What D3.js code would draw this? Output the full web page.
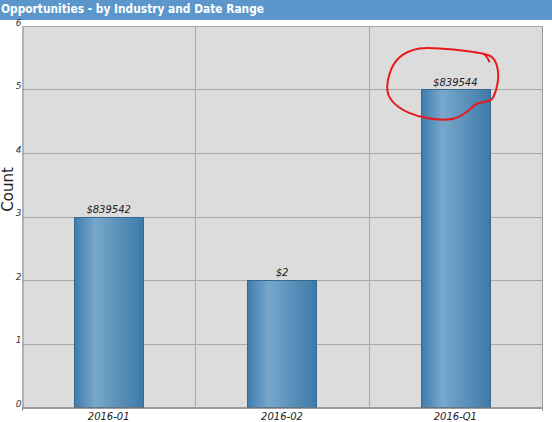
<!DOCTYPE html>
<html><head><meta charset="utf-8">
<script src="https://cdn.jsdelivr.net/npm/d3@7"></script>
<style>
html,body{margin:0;padding:0;background:#fff;}
svg{display:block;}
</style></head>
<body>
<svg id="c" width="552" height="422"></svg>
<script>
const title = "Opportunities - by Industry and Date Range";
const categories = ["2016-01", "2016-02", "2016-Q1"];
const counts = [3, 2, 5];
const amountLabels = ["$839542", "$2", "$839544"];
const yTicks = [0, 1, 2, 3, 4, 5, 6];
const yLabel = "Count";
const highlightCategory = "2016-Q1";

const svg = d3.select("#c");
const W = 552, H = 422;
const m = {left: 22, right: 10, top: 26, bottom: 15};

// header bar
svg.append("rect").attr("x",0).attr("y",0).attr("width",W).attr("height",20).attr("fill","#5b97cb");

const x = d3.scaleBand().domain(categories).range([m.left, W - m.right]).paddingInner(0).paddingOuter(0);
const y = d3.scaleLinear().domain([0, 6]).range([H - m.bottom, m.top]);

// plot background
svg.append("rect").attr("x", m.left).attr("y", y(6)).attr("width", x.range()[1]-m.left).attr("height", y(0)-y(6)).attr("fill","#dcdcdc");

// horizontal grid
svg.append("g").selectAll("line").data(yTicks.filter(d=>d>0)).join("line")
  .attr("x1", m.left).attr("x2", x.range()[1])
  .attr("y1", d=>Math.round(y(d))+0.5).attr("y2", d=>Math.round(y(d))+0.5)
  .attr("stroke","#a9a9a9").attr("stroke-width",1);

// vertical grid (band boundaries)
const bounds = categories.map(c=>x(c)+x.bandwidth());
svg.append("g").selectAll("line").data(bounds).join("line")
  .attr("x1", d=>Math.round(d)+0.5).attr("x2", d=>Math.round(d)+0.5)
  .attr("y1", y(6)).attr("y2", y(0))
  .attr("stroke","#a9a9a9").attr("stroke-width",1);

// gradient
const defs = svg.append("defs");
const g = defs.append("linearGradient").attr("id","barg").attr("x1","0%").attr("x2","100%").attr("y1","0%").attr("y2","0%");
g.append("stop").attr("offset","0%").attr("stop-color","#3f7cac");
g.append("stop").attr("offset","30%").attr("stop-color","#78a7cb");
g.append("stop").attr("offset","100%").attr("stop-color","#3d7aa9");

const bw = x.bandwidth()*0.4;
svg.append("g").selectAll("rect").data(categories).join("rect")
  .attr("x", (c)=>Math.round(x(c)+x.bandwidth()/2-bw/2)+0.5)
  .attr("y", (c,i)=>Math.round(y(counts[i]))+0.5)
  .attr("width", Math.round(bw))
  .attr("height", (c,i)=>Math.round(y(0))-Math.round(y(counts[i])))
  .attr("fill","url(#barg)").attr("stroke","#36698f").attr("stroke-width",1);

// value labels
svg.append("g").selectAll("text").data(categories).join("text")
  .attr("x", c=>x(c)+x.bandwidth()/2)
  .attr("y", (c,i)=>y(counts[i])-4)
  .attr("text-anchor","middle")
  .attr("font-family","'DejaVu Sans', Verdana, sans-serif").attr("font-size",10).attr("font-style","italic")
  .attr("fill","#222")
  .text((c,i)=>amountLabels[i]);

// axes
const yAxis = d3.axisLeft(y).tickValues(yTicks).tickSize(0).tickFormat(d3.format("d"));
const ya = svg.append("g").attr("transform",`translate(${m.left+0.5},0)`).call(yAxis);
ya.select(".domain").attr("stroke","#8a8a8a");
ya.selectAll("text").attr("x",-1).attr("dy","-0.1em").attr("font-family","'DejaVu Sans', Verdana, sans-serif").attr("font-size",9).attr("font-style","italic").attr("fill","#333");

const xAxis = d3.axisBottom(x).tickSize(0);
const xa = svg.append("g").attr("transform",`translate(0,${Math.round(y(0))+0.5})`).call(xAxis);
xa.select(".domain").attr("stroke","#7a7a7a").attr("stroke-width",1.5);
xa.selectAll("text").attr("dy","0.95em").attr("font-family","'DejaVu Sans', Verdana, sans-serif").attr("font-size",10).attr("font-style","italic").attr("fill","#222");

// right border
svg.append("line").attr("x1", x.range()[1]+0.5).attr("x2", x.range()[1]+0.5).attr("y1", y(6)).attr("y2", y(0)+4).attr("stroke","#9a9a9a");
// left tick below zero
svg.append("line").attr("x1", m.left+0.5).attr("x2", m.left+0.5).attr("y1", y(0)).attr("y2", y(0)+4).attr("stroke","#8a8a8a");
// top border
svg.append("line").attr("x1", m.left).attr("x2", x.range()[1]).attr("y1", y(6)+0.5).attr("y2", y(6)+0.5).attr("stroke","#a9a9a9");

// title
svg.append("text").attr("x",1).attr("y",13).attr("fill","#fff")
  .attr("font-family","'DejaVu Sans', Verdana, sans-serif").attr("font-weight","bold").attr("font-size",12.5)
  .attr("textLength",263).attr("lengthAdjust","spacingAndGlyphs")
  .text(title);

// y label
svg.append("text").attr("transform",`translate(13,${(y(0)+y(6))/2 - 27}) rotate(-90)`)
  .attr("text-anchor","middle").attr("font-family","'DejaVu Sans', Verdana, sans-serif").attr("font-size",15).attr("fill","#222")
  .text(yLabel);

// hand-drawn red annotation around highlighted label
const hi = categories.indexOf(highlightCategory);
const cx = x(highlightCategory)+x.bandwidth()/2, cy = y(counts[hi]);
const pts = [[22,-37],[-36,-41],[-56,-32],[-66,-15],[-67,5],[-56,18],[-31,28],[-1,29],[12,22],[22,14],[36,10],[42,-5],[42,-22],[37,-32],[27,-36],[20,-37],[29,-35],[34,-28]];
svg.append("path")
  .attr("d", d3.line().curve(d3.curveCatmullRom)(pts.map(p=>[cx+p[0], cy+p[1]])))
  .attr("fill","none").attr("stroke","#e8191b").attr("stroke-width",2).attr("stroke-linecap","round").attr("stroke-linejoin","round");
</script>
</body></html>
